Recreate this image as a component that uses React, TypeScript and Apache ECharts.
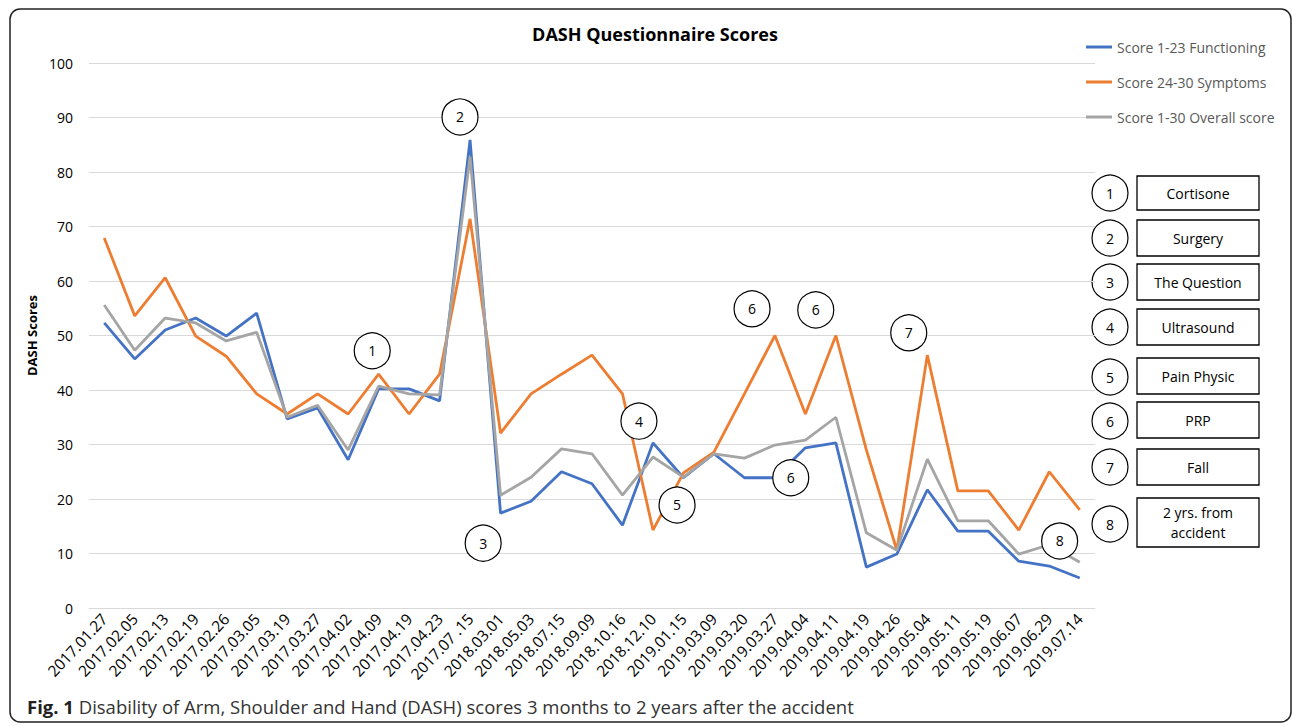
import React, { useEffect, useRef } from "react";
import * as echarts from "echarts";

const categories = [
  "2017.01.27", "2017.02.05", "2017.02.13", "2017.02.19", "2017.02.26", "2017.03.05",
  "2017.03.19", "2017.03.27", "2017.04.02", "2017.04.09", "2017.04.19", "2017.04.23",
  "2017.07 .15", "2018.03.01", "2018.05.03", "2018.07.15", "2018.09.09", "2018.10.16",
  "2018.12.10", "2019.01.15", "2019.03.09", "2019.03.20", "2019.03.27", "2019.04.04",
  "2019.04.11", "2019.04.19", "2019.04.26", "2019.05.04", "2019.05.11", "2019.05.19",
  "2019.06.07", "2019.06.29", "2019.07.14",
];

const functioning = [
  52.3, 45.7, 51.0, 53.2, 49.9, 54.1, 34.7, 36.7, 27.2, 40.2, 40.2, 38.0,
  85.9, 17.4, 19.6, 25.0, 22.8, 15.2, 30.3, 23.9, 28.3, 23.9, 23.9, 29.4,
  30.3, 7.5, 9.9, 21.7, 14.1, 14.1, 8.6, 7.7, 5.5,
];

const symptoms = [
  67.9, 53.6, 60.6, 49.9, 46.2, 39.3, 35.6, 39.3, 35.6, 42.9, 35.6, 42.9,
  71.4, 32.1, 39.3, 42.9, 46.4, 39.3, 14.3, 24.8, 28.6, 39.3, 50.0, 35.6,
  50.0, 29.0, 10.6, 46.4, 21.5, 21.5, 14.3, 25.0, 18.0,
];

const overall = [
  55.6, 47.3, 53.2, 52.3, 49.0, 50.6, 35.0, 37.2, 29.0, 40.7, 39.3, 39.1,
  82.8, 20.7, 24.0, 29.2, 28.3, 20.7, 27.7, 24.0, 28.3, 27.5, 29.9, 30.8,
  35.0, 13.8, 10.6, 27.3, 16.0, 16.0, 9.9, 11.6, 8.4,
];

const seriesNames = [
  "Score 1-23 Functioning",
  "Score 24-30 Symptoms",
  "Score 1-30 Overall score",
];

// Event markers on the chart (category-index position, score position, number)
const markerNumbers = ["1", "2", "3", "4", "5", "6", "6", "6", "7", "8"];
const markerX = [8.79, 11.67, 12.43, 17.54, 18.79, 21.25, 23.34, 22.52, 26.39, 31.34];
const markerY = [47.2, 90.1, 11.9, 34.3, 18.9, 54.9, 54.7, 23.9, 50.5, 12.3];

// Key on the right
const keyNumbers = ["1", "2", "3", "4", "5", "6", "7", "8"];
const keyLabels = [
  "Cortisone", "Surgery", "The Question", "Ultrasound",
  "Pain Physic", "PRP", "Fall", "2 yrs. from\naccident",
];

const FONT = "'Open Sans', 'Noto Sans', sans-serif";

export default function App() {
  const ref = useRef<HTMLDivElement>(null);

  useEffect(() => {
    if (!ref.current) return;
    const chart = echarts.init(ref.current, null, { renderer: "svg" });

    const keyCircleY = [193, 238, 282, 327, 377, 421, 467, 524];
    const keyRectY = [176, 220, 264, 309, 358, 402, 449, 498];
    const keyRectH = [34, 36, 36, 36, 36, 36, 36, 49];
    const keyGraphics: any[] = [];
    keyNumbers.forEach((n, i) => {
      const cx = 1110;
      keyGraphics.push({
        type: "circle",
        shape: { cx, cy: keyCircleY[i], r: 18 },
        style: { fill: "#fff", stroke: "#000", lineWidth: 1.2 },
      });
      keyGraphics.push({
        type: "text",
        x: cx,
        y: keyCircleY[i],
        style: {
          text: n, align: "center", verticalAlign: "middle",
          fontSize: 14, fontFamily: FONT, fill: "#000",
        },
      });
      keyGraphics.push({
        type: "rect",
        shape: { x: 1137, y: keyRectY[i], width: 122, height: keyRectH[i] },
        style: { fill: "#fff", stroke: "#000", lineWidth: 1.3 },
      });
      keyGraphics.push({
        type: "text",
        x: 1198,
        y: keyRectY[i] + keyRectH[i] / 2,
        style: {
          text: keyLabels[i], align: "center", verticalAlign: "middle",
          fontSize: 14, fontFamily: FONT, fill: "#000", lineHeight: 20,
        },
      });
    });

    const colors = ["#4472C4", "#ED7D31", "#A5A5A5"];
    const values = [functioning, symptoms, overall];

    chart.setOption({
      animation: false,
      backgroundColor: "#fff",
      textStyle: { fontFamily: FONT },
      title: {
        text: "DASH Questionnaire Scores",
        left: 650,
        textAlign: "center",
        top: 20,
        textStyle: { fontSize: 18, fontWeight: "bold", color: "#000", fontFamily: FONT },
      },
      legend: {
        data: seriesNames,
        orient: "vertical",
        left: 1081,
        top: 35,
        icon: "rect",
        itemWidth: 26,
        itemHeight: 3,
        itemGap: 21,
        textStyle: { fontSize: 14, color: "#595959", fontFamily: FONT },
      },
      grid: { left: 89, right: 197, top: 63, bottom: 118, containLabel: false },
      xAxis: [
        {
          type: "category",
          data: categories,
          boundaryGap: true,
          axisLine: { show: true, lineStyle: { color: "#d9d9d9" } },
          axisTick: { show: false },
          axisLabel: {
            interval: 0,
            rotate: 47,
            margin: 8,
            fontSize: 15.5,
            color: "#000",
            fontFamily: FONT,
          },
        },
        {
          type: "value",
          min: -0.5,
          max: categories.length - 0.5,
          show: false,
        },
      ],
      yAxis: {
        type: "value",
        min: 0,
        max: 100,
        interval: 10,
        name: "DASH Scores",
        nameLocation: "middle",
        nameGap: 49,
        nameTextStyle: { fontSize: 13, fontWeight: "bold", color: "#000", fontFamily: FONT },
        axisLine: { show: false },
        axisTick: { show: false },
        axisLabel: { fontSize: 14, color: "#000", margin: 16, fontFamily: FONT },
        splitLine: { lineStyle: { color: "#d9d9d9", width: 1 } },
      },
      graphic: [
        {
          type: "rect",
          shape: { x: 10, y: 9, width: 1281, height: 713, r: 10 },
          style: { fill: "none", stroke: "#222", lineWidth: 1.5 },
          z: 100,
        },
        ...keyGraphics,
        {
          type: "text",
          x: 27,
          y: 706,
          style: {
            text: "{b|Fig. 1} Disability of Arm, Shoulder and Hand (DASH) scores 3 months to 2 years after the accident",
            verticalAlign: "middle",
            fontSize: 18.5,
            fontFamily: FONT,
            fill: "#333",
            rich: {
              b: { fontWeight: "bold", fontSize: 18.5, fontFamily: FONT, fill: "#231f20" },
            },
          },
        },
      ],
      series: [
        ...values.map((v, i) => ({
          name: seriesNames[i],
          type: "line",
          data: v,
          symbol: "none",
          lineStyle: { width: 2.8, color: colors[i] },
          itemStyle: { color: colors[i] },
          z: 2 + i,
        })),
        {
          name: "markers",
          type: "scatter",
          xAxisIndex: 1,
          yAxisIndex: 0,
          symbol: "circle",
          symbolSize: 36,
          z: 10,
          itemStyle: { color: "#fff", borderColor: "#000", borderWidth: 1.2, opacity: 1 },
          label: {
            show: true,
            position: "inside",
            formatter: (p: any) => p.value[2],
            fontSize: 14,
            color: "#000",
            fontFamily: FONT,
          },
          data: markerX.map((x, i) => [x, markerY[i], markerNumbers[i]]),
        },
      ],
    });

    return () => chart.dispose();
  }, []);

  return (
    <div
      ref={ref}
      style={{ position: "fixed", left: 0, top: 0, width: 1292, height: 726 }}
    />
  );
}
